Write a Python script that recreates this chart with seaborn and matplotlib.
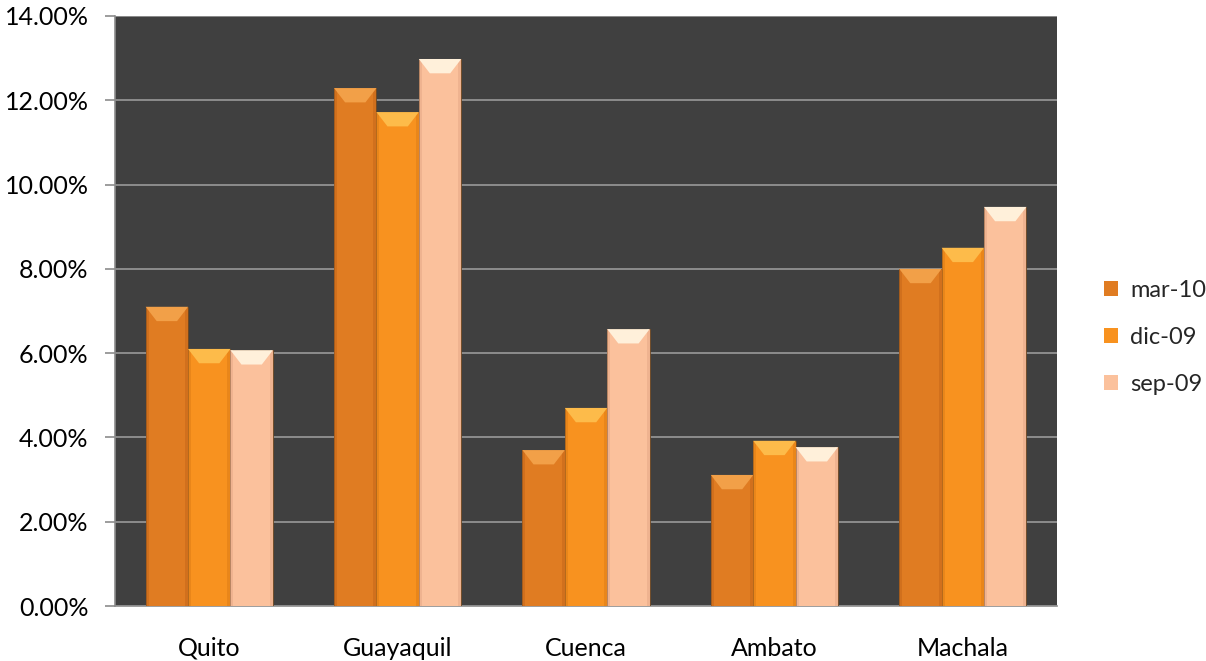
import matplotlib
matplotlib.use("Agg")
import matplotlib.pyplot as plt
from matplotlib.patches import Polygon
from matplotlib.ticker import FuncFormatter, MultipleLocator
import seaborn as sns
import pandas as pd

cities = ["Quito", "Guayaquil", "Cuenca", "Ambato", "Machala"]
periods = ["mar-10", "dic-09", "sep-09"]
mar_10 = [7.10, 12.29, 3.70, 3.11, 8.00]
dic_09 = [6.10, 11.72, 4.70, 3.92, 8.50]
sep_09 = [6.07, 12.98, 6.57, 3.77, 9.47]

colors = ["#E07C22", "#F8921F", "#FBC19C"]
tops = ["#F2A048", "#FDBB4A", "#FFF0DA"]
sides = ["#C8691A", "#E07E18", "#E8AA88"]

df = pd.DataFrame({
    "city": cities * 3,
    "period": [p for p in periods for _ in cities],
    "value": mar_10 + dic_09 + sep_09,
})

sns.set_theme(style="white")
plt.rcParams["font.family"] = ["Lato", "DejaVu Sans"]

fig = plt.figure(figsize=(12.06, 6.61), dpi=100)
ax = fig.add_axes([0.0954, 0.0832, 0.7811, 0.8926])
ax.set_facecolor("#404040")

sns.barplot(data=df, x="city", y="value", hue="period", hue_order=periods,
            order=cities, palette=colors, width=0.675, saturation=1,
            edgecolor="none", linewidth=0, ax=ax, zorder=3)

ax.set_ylim(0, 14)
ax.set_xlim(-0.5, len(cities) - 0.5)
ax.yaxis.set_major_locator(MultipleLocator(2))
ax.yaxis.set_major_formatter(FuncFormatter(lambda v, _: f"{v:.2f}%"))
ax.grid(axis="y", color="#9A9A9A", linewidth=1.2, zorder=1)
ax.set_axisbelow(True)
ax.set_xlabel("")
ax.set_ylabel("")

# bevelled look: lighter top facet, darker side strips
for i, cont in enumerate(ax.containers):
    for bar in cont:
        x0 = bar.get_x()
        w = bar.get_width()
        h = bar.get_height()
        bx = w * 0.26
        by = 0.34
        sw = w * 0.07
        for xs in (x0, x0 + w - sw):
            ax.add_patch(Polygon([(xs, 0), (xs + sw, 0), (xs + sw, h), (xs, h)],
                                 closed=True, facecolor=sides[i], edgecolor="none",
                                 alpha=0.6, zorder=3.5))
        ax.add_patch(Polygon([(x0, h), (x0 + w, h), (x0 + w - bx, h - by), (x0 + bx, h - by)],
                             closed=True, facecolor=tops[i], edgecolor="none", zorder=4))
        bar.set_edgecolor("#6a4520")
        bar.set_linewidth(0.6)

for s in ["top", "right"]:
    ax.spines[s].set_visible(False)
for s in ["left", "bottom"]:
    ax.spines[s].set_color("#8C8C8C")
    ax.spines[s].set_linewidth(1.2)

# category separator ticks on x axis
ax.set_xticks(range(len(cities)))
ax.set_xticklabels(cities)
ax.set_xticks([k - 0.5 for k in range(len(cities) + 1)], minor=True)
ax.tick_params(axis="x", which="major", length=0, pad=22, labelsize=18, colors="black")
ax.tick_params(axis="x", which="minor", length=6, width=1.2, color="#8C8C8C", direction="out")
ax.tick_params(axis="y", length=7, width=1.2, color="#8C8C8C", direction="out",
               labelsize=18, colors="black", pad=12, left=True)

ax.legend(loc="center left", bbox_to_anchor=(1.04, 0.455), borderaxespad=0,
          frameon=False, fontsize=17, handlelength=0.6, handleheight=0.6,
          labelspacing=1.1, handletextpad=0.5)

fig.savefig("out.png", dpi=100)
